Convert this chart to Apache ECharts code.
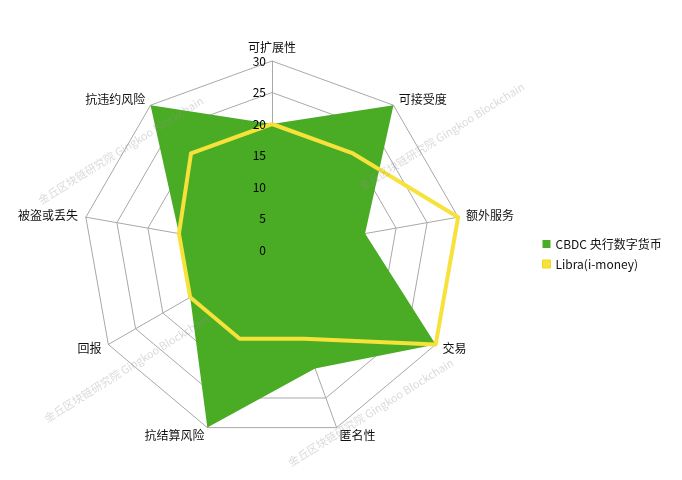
<!DOCTYPE html>
<html><head><meta charset="utf-8">
<script src="https://cdn.jsdelivr.net/npm/echarts@6/dist/echarts.min.js"></script>
<style>html,body{margin:0;padding:0;background:#fff}#c{width:682px;height:480px}</style>
</head><body><div id="c"></div>
<script>
// listed clockwise from the top
const indicators = ['可扩展性','可接受度','额外服务','交易','匿名性','抗结算风险','回报','被盗或丢失','抗违约风险'];
const cbdcName = 'CBDC 央行数字货币';
const cbdc = [20, 30, 15, 30, 20, 30, 15, 15, 30];
const libraName = 'Libra(i-money)';
const libra = [20, 20, 30, 30, 15, 15, 15, 15, 20];
const maxVal = 30;
const tickStep = 5;
const watermark = '金丘区块链研究院 Gingkoo Blockchain';

// ECharts lays radar indicators out counter-clockwise: reorder to keep them clockwise
const cw = arr => [arr[0]].concat(arr.slice(1).reverse());

const font = '"Noto Sans CJK SC", "Noto Sans", sans-serif';
const chart = echarts.init(document.getElementById('c'));
const wm = (x, y) => ({type:'text', x:x, y:y, rotation: Math.PI*32/180, z: 100,
  style:{text: watermark, fill:'rgba(150,150,150,0.35)', font:'11px ' + font, verticalAlign:'bottom'}});
chart.setOption({
  animation:false,
  textStyle:{fontFamily:font},
  legend:{orient:'vertical', left:537, top:233, itemWidth:8, itemHeight:8, itemGap:8,
    icon:'rect', textStyle:{fontSize:12, color:'#111', fontFamily:font},
    data:[{name:cbdcName, itemStyle:{color:'#4aab24', borderWidth:0}},
          {name:libraName, itemStyle:{color:'#f7e23c', borderColor:'#f3d51a', borderWidth:1}}]},
  radar:{center:[272,250], radius:189, startAngle:90, shape:'polygon', splitNumber: maxVal/tickStep,
    indicator: cw(indicators).map(n => ({name:n, max:maxVal, min:0})),
    axisName:{color:'#111', fontSize:12, fontFamily:font},
    nameGap:8,
    splitLine:{lineStyle:{color:'#a8a8a8', width:1}},
    axisLine:{lineStyle:{color:'#a8a8a8', width:1}},
    splitArea:{show:false}},
  grid:{left:272, top:61, width:1, height:189, z:10},
  xAxis:{type:'value', show:false},
  yAxis:{type:'value', min:0, max:maxVal, interval:tickStep, z:10, axisLine:{show:false}, axisTick:{show:false},
    splitLine:{show:false}, axisLabel:{margin:6, color:'#000', fontSize:12, fontFamily:font}},
  series:[
    {type:'radar', name:cbdcName, symbol:'none', z:2,
      lineStyle:{width:0, color:'#4aab24'}, itemStyle:{color:'#4aab24'},
      areaStyle:{color:'#4aab24', opacity:1},
      data:[{value:cw(cbdc), name:cbdcName}]},
    {type:'radar', name:libraName, symbol:'none', z:3,
      lineStyle:{width:4, color:'#f7e23c'}, itemStyle:{color:'#f7e23c'},
      data:[{value:cw(libra), name:libraName}]}
  ],
  graphic:[ wm(42,206), wm(363,192), wm(48,424), wm(292,468) ]
});
</script></body></html>
